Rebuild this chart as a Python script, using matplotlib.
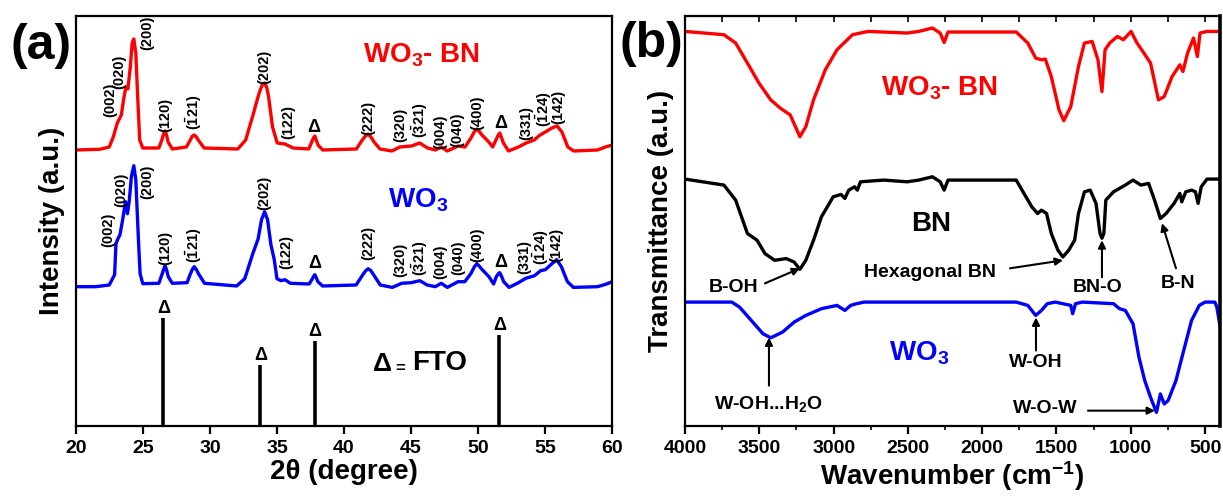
import matplotlib
matplotlib.use("Agg")
import matplotlib.pyplot as plt

plt.rcParams["font.family"] = ["Liberation Sans", "DejaVu Sans"]
plt.rcParams["font.weight"] = "bold"
plt.rcParams["axes.labelweight"] = "bold"
plt.rcParams["mathtext.fontset"] = "custom"
plt.rcParams["mathtext.rm"] = "Liberation Sans:bold"
plt.rcParams["mathtext.it"] = "Liberation Sans:bold"
plt.rcParams["mathtext.bf"] = "Liberation Sans:bold"
plt.rcParams["mathtext.default"] = "rm"

# ---------------- XRD data (2theta in degrees, intensity in a.u.) ----------------
tt_wo3bn = [20.0, 21.8, 22.5, 22.8, 23.1, 23.4, 23.6, 23.74, 23.89, 24.07, 24.21, 24.33,
            24.48, 24.63, 24.77, 25.0, 26.2, 26.42, 26.55, 26.66, 26.77, 26.89, 27.2,
            28.25, 28.54, 28.7, 28.84, 29.0, 29.13, 29.57, 32.08, 32.67, 33.26, 33.5,
            33.7, 33.9, 34.08, 34.25, 34.38, 34.67, 35.02, 35.6, 36.2, 37.37, 37.59,
            37.72, 37.82, 37.93, 38.06, 38.41, 40.92, 41.36, 41.6, 41.8, 42.0, 42.24,
            42.68, 43.57, 44.16, 45.04, 45.63, 46.22, 46.81, 47.25, 47.69, 48.52, 49.02,
            49.46, 49.7, 49.9, 50.05, 50.28, 50.79, 51.08, 51.32, 51.5, 51.61, 51.72,
            51.88, 52.26, 53.0, 53.58, 54.17, 54.61, 55.0, 55.5, 55.88, 56.24, 56.68,
            57.12, 58.89, 59.48, 60.0]
int_wo3bn = [0, 0.7, 3, 13, 27, 35, 53, 63, 61, 83, 107, 111,
             97, 50, 10, 2, 2, 10, 16, 19, 15, 8, 1,
             3, 10, 14, 15, 13, 10, 2, 1, 10, 37, 49,
             58, 65, 67, 62, 53, 23, 7, 6, 2, 1, 8,
             12, 14, 10, 5, 0, 1, 10, 14, 16, 13, 8,
             1, -1, 3, 4, 7, 2, 0, 3, -1, 4, 3,
             12, 18, 21, 19, 15, 8, 3, 10, 15, 17, 13,
             7, -1, 3, 7, 10, 15, 18, 22, 24, 18, 3,
             -1, 0, 3, 5]

tt_wo3 = [20.0, 21.5, 22.5, 22.9, 23.0, 23.15, 23.3, 23.5, 23.71, 23.86, 24.0, 24.15,
          24.33, 24.48, 24.6, 24.7, 24.8, 25.0, 26.2, 26.45, 26.57, 26.66, 26.77, 26.9,
          27.2, 28.3, 28.55, 28.72, 28.84, 29.0, 29.15, 29.6, 32.0, 32.6, 33.2, 33.6,
          33.85, 34.08, 34.3, 34.55, 34.8, 35.0, 35.3, 35.6, 36.0, 37.4, 37.6, 37.72,
          37.82, 37.93, 38.05, 38.4, 40.9, 41.4, 41.62, 41.8, 42.0, 42.2, 42.7, 43.6,
          44.3, 45.0, 45.65, 46.2, 46.8, 47.25, 47.7, 48.5, 49.0, 49.45, 49.72, 49.9,
          50.05, 50.3, 50.8, 51.15, 51.35, 51.5, 51.6, 51.72, 51.9, 52.3, 53.0, 53.55,
          54.2, 54.65, 55.0, 55.5, 55.85, 56.2, 56.65, 57.1, 58.9, 59.5, 60.0]
int_wo3 = [0, 0, 1.7, 12, 43, 48, 52, 67, 85, 73, 87, 110,
           121, 107, 70, 40, 13, 3, 3.4, 13, 18, 21, 17, 10,
           3.4, 4, 13, 18, 20, 17, 13, 3.4, 0.7, 8, 33, 48,
           67, 75, 67, 42, 27, 8, 6, 7, 3.4, 2.7, 7, 10,
           12, 9, 5, 0.7, 1.7, 12, 16, 18, 16, 12, 1.7, -0.7,
           3.4, 4, 6, 1.7, 0, 3.4, -0.7, 5, 5, 13, 20, 23,
           21, 17, 10, 2.7, 10, 13, 14, 11, 5, -0.7, 4, 8.4,
           11, 16, 17, 23, 27, 20, 5, -0.7, 0, 2.4, 5]

fto_pos = [26.53, 33.76, 37.82, 51.58]
fto_int = [108, 61, 85, 91]

hkl_labels = ["(002)", "(020)", "(200)", "(120)", r"$(\bar{1}21)$", "(202)", "(122)", "Δ",
              "(222)", "(320)", r"$(\bar{3}21)$", "(004)", "(040)", "(400)", "Δ", "(331)",
              r"$(\bar{1}24)$", "(142)"]

# label anchor points (2theta, height) for each stacked pattern
lab_x_bn = [22.6, 23.24, 25.36, 26.7, 28.84, 34.08, 35.82, 37.76, 41.8, 44.16, 45.63,
            47.16, 48.43, 49.9, 51.67, 53.58, 54.9, 56.0]
lab_y_bn = [325.7, 353.7, 392.7, 310.7, 313.7, 358.7, 303.7, 297.7, 307.7, 300.7, 305.7,
            293.7, 295.7, 312.7, 301.7, 302.7, 316.7, 318.7]
lab_x_wo = [22.42, 23.39, 25.36, 26.66, 28.84, 34.08, 35.67, 37.82, 41.8, 44.16, 45.63,
            47.16, 48.52, 49.9, 51.67, 53.44, 54.7, 55.85]
lab_y_wo = [195.7, 235.7, 243.7, 177.7, 180.7, 232.7, 173.7, 161.7, 182.7, 165.7, 167.7,
            163.7, 167.7, 180.7, 162.7, 168.7, 178.7, 180.7]

off_wo3bn = 275.7
off_wo3 = 139.0

# ---------------- FTIR data (wavenumber in cm-1, transmittance in a.u.) ----------------
wn_wo3bn = [4000, 3738, 3659, 3580, 3502, 3423, 3358, 3292, 3227, 3187, 3135, 3056, 2977,
            2873, 2768, 2505, 2427, 2335, 2283, 2256, 2230, 1771, 1693, 1640, 1601, 1575,
            1535, 1483, 1451, 1404, 1352, 1312, 1260, 1221, 1194, 1173, 1142, 1090, 1050,
            998, 958, 919, 867, 814, 775, 722, 670, 649, 618, 578, 552, 534, 487, 400]
tr_wo3bn = [100.3, 97, 88.7, 68.7, 48.7, 32, 23.7, 17, -4.7, 5.3, 32, 62, 82,
            97, 100.3, 98.7, 100.3, 103.7, 98.7, 89.3, 99.7, 99.7, 88.7, 73.7, 72, 72.7,
            55.3, 22, 11.3, 25.3, 65.3, 88.7, 90.3, 72, 40.3, 82, 88.7, 95.3, 92,
            100.3, 88.7, 80.3, 68.7, 32, 35.3, 55.3, 67, 60.3, 78.7, 93.7, 75.3, 98.7, 100.3, 100.3]

wn_bn = [4000, 3738, 3659, 3580, 3515, 3462, 3397, 3318, 3266, 3227, 3187, 3135, 3082,
         3003, 2950, 2924, 2898, 2859, 2840, 2819, 2663, 2505, 2427, 2335, 2283, 2256,
         2230, 1771, 1719, 1666, 1627, 1601, 1567, 1535, 1490, 1457, 1418, 1378, 1352,
         1312, 1273, 1234, 1207, 1194, 1181, 1168, 1116, 1037, 985, 932, 880, 840, 801,
         762, 709, 670, 657, 630, 591, 565, 547, 526, 487, 400]
tr_bn = [100, 94, 79, 45.7, 39, 25.7, 19, 20.7, 17.3, 10, 19, 39, 62.3,
         82.3, 84.7, 80.7, 89, 92.3, 89, 97.3, 99, 97.3, 99, 102.3, 97.3, 89,
         99, 99, 85.7, 72.3, 65.7, 69, 65.7, 45.7, 29, 22.3, 29, 39, 65.7,
         87.3, 89, 75.7, 45.7, 41, 46, 79, 87.3, 94, 99, 94, 95.7, 79, 60.7,
         65.7, 75.7, 85.7, 77.3, 87.3, 89, 87.3, 75.7, 92.3, 100, 100]

wn_wo3 = [4000, 3685, 3633, 3554, 3475, 3423, 3344, 3266, 3187, 3082, 2977, 2924, 2885,
          2846, 2794, 1771, 1693, 1640, 1601, 1562, 1509, 1457, 1404, 1391, 1372, 1326,
          1116, 1076, 1037, 985, 945, 906, 867, 827, 801, 775, 749, 696, 644, 591, 539,
          500, 434, 421, 400]
tr_wo3 = [100, 100, 95, 81.7, 68.4, 64.4, 70, 80, 86.7, 93.4, 96.7, 91.7, 96.7,
          98.4, 100, 100, 96.7, 86.7, 91.7, 98.4, 100, 98.4, 96.7, 88.4, 98.4, 100,
          98.4, 93.4, 91.7, 78.4, 45, 21.7, 5, -10, 8.4, -1.6, 1.7, 21.7, 51.7, 81.7, 96.7,
          100, 100, 95, 76.7]

off_ftir_wo3bn = 293.0
off_ftir_bn = 146.0
off_ftir_wo3 = 23.3

RED = "#ff0000"
BLUE = "#0000ff"

fig = plt.figure(figsize=(12.23, 4.98), dpi=100)
ax1 = fig.add_axes([0.0619, 0.1452, 0.4388, 0.8233])
ax2 = fig.add_axes([0.5601, 0.1452, 0.4374, 0.8233])

for ax in (ax1, ax2):
    for s in ax.spines.values():
        s.set_linewidth(1.6)
    ax.tick_params(axis="x", which="major", direction="out", length=6, width=1.6,
                   labelsize=14, pad=4)
    ax.tick_params(axis="y", left=False, labelleft=False)

# ---------------- panel (a): XRD ----------------
ax1.plot(tt_wo3bn, [v + off_wo3bn for v in int_wo3bn], color=RED, lw=2.4,
         solid_joinstyle="round")
ax1.plot(tt_wo3, [v + off_wo3 for v in int_wo3], color=BLUE, lw=2.4,
         solid_joinstyle="round")
ax1.vlines(fto_pos, 0, fto_int, color="black", lw=2.6)
for x, h in zip(fto_pos, fto_int):
    ax1.text(x, h + 9, "Δ", ha="center", va="center", fontsize=13, fontweight="bold")


def hkl_text(ax, lab, x, y):
    if lab == "Δ":
        ax.text(x, y, lab, ha="center", va="center", fontsize=13, fontweight="bold")
    else:
        ax.text(x, y, lab, ha="center", va="center", fontsize=10.5, rotation=90,
                fontweight="bold")


for lab, x, y in zip(hkl_labels, lab_x_bn, lab_y_bn):
    hkl_text(ax1, lab, x, y)
for lab, x, y in zip(hkl_labels, lab_x_wo, lab_y_wo):
    hkl_text(ax1, lab, x, y)

ax1.text(45.74, 370.7, r"WO$_3$- BN", color=RED, fontsize=20, ha="center", va="center")
ax1.text(45.5, 225.7, r"WO$_3$", color=BLUE, fontsize=20, ha="center", va="center")
ax1.text(42.83, 62, "Δ", fontsize=19, ha="center", va="center")
ax1.text(44.16, 57, "=", fontsize=12, ha="center", va="center")
ax1.text(47.1, 62.7, "FTO", fontsize=20, ha="center", va="center")

ax1.set_xlim(20, 60)
ax1.set_ylim(0, 410)
ax1.set_xticks([20, 25, 30, 35, 40, 45, 50, 55, 60])
ax1.set_xlabel("2θ (degree)", fontsize=20, labelpad=2)
ax1.set_ylabel("Intensity (a.u.)", fontsize=20, labelpad=8)

# ---------------- panel (b): FTIR ----------------
ax2.plot(wn_wo3bn, [v + off_ftir_wo3bn for v in tr_wo3bn], color=RED, lw=2.4,
         solid_joinstyle="round")
ax2.plot(wn_bn, [v + off_ftir_bn for v in tr_bn], color="black", lw=2.4,
         solid_joinstyle="round")
ax2.plot(wn_wo3, [v + off_ftir_wo3 for v in tr_wo3], color=BLUE, lw=2.4,
         solid_joinstyle="round")

ax2.text(2291, 337, r"WO$_3$- BN", color=RED, fontsize=20, ha="center", va="center")
ax2.text(2345, 201, "BN", fontsize=20, ha="center", va="center")
ax2.text(2425, 72, r"WO$_3$", color=BLUE, fontsize=20, ha="center", va="center")

arrow = dict(arrowstyle="-|>", color="black", lw=1.5, mutation_scale=11,
             shrinkA=0, shrinkB=0)
notes = [
    ("B-OH", (3670, 138), (3462, 142), (3226, 157)),
    ("Hexagonal BN", (2351, 153), (1813, 157), (1456, 165)),
    ("BN-O", (1221, 138), (1194, 148), (1194, 185)),
    ("B-N", (683, 142), (696, 157), (790, 202)),
    ("W-OH", (1638, 63), (1638, 75), (1638, 108)),
    (r"W-OH...H$_2$O", (3435, 22), (3435, 40), (3435, 88)),
    ("W-O-W", (1578, 17), (1288, 15), (837, 15)),
]
for txt, pos, start, tip in notes:
    ax2.text(pos[0], pos[1], txt, fontsize=14, ha="center", va="center")
    ax2.annotate("", xy=tip, xytext=start, arrowprops=arrow)

ax2.set_xlim(4000, 400)
ax2.set_ylim(0, 409)
ax2.set_xticks([4000, 3500, 3000, 2500, 2000, 1500, 1000, 500])
ax2.set_xticks(range(3750, 400, -500), minor=True)
ax2.tick_params(axis="x", which="minor", direction="out", length=3, width=1.2)
ax2.spines["right"].set_linewidth(2.6)

# inward ticks every 250 cm-1 along the top edge
top = ax2.secondary_xaxis("top")
top.set_xticks(range(3750, 400, -250))
top.tick_params(axis="x", direction="in", length=4, width=1.2, labeltop=False)

for ax in (ax1, ax2):
    for lbl in ax.get_xticklabels():
        lbl.set_fontweight("bold")

ax2.set_xlabel(r"Wavenumber (cm$^{-1}$)", fontsize=20, labelpad=2)
ax2.set_ylabel("Transmittance (a.u.)", fontsize=20, labelpad=8)

fig.text(41 / 1223, 1 - 46 / 498, "(a)", fontsize=36, ha="center", va="center")
fig.text(651 / 1223, 1 - 44 / 498, "(b)", fontsize=36, ha="center", va="center")

fig.savefig("out.png", dpi=100)
